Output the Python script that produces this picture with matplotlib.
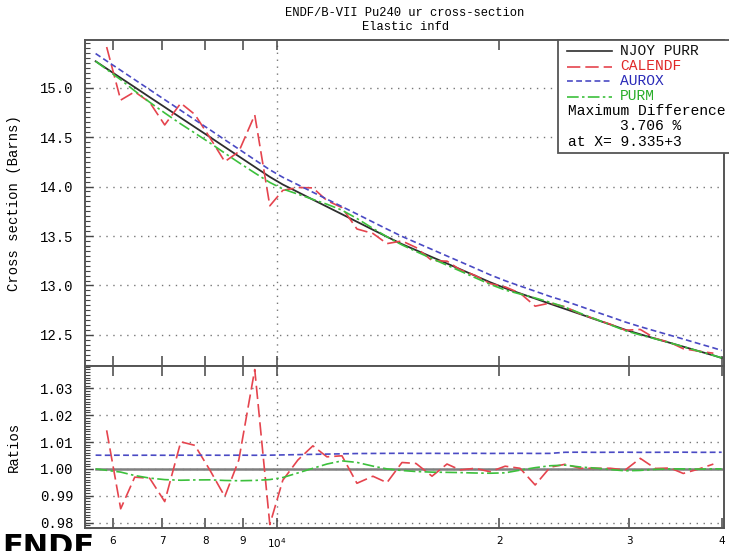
import numpy as np
import matplotlib.pyplot as plt
from matplotlib.lines import Line2D
from matplotlib.patches import Rectangle
from matplotlib.ticker import FixedLocator, FixedFormatter, MultipleLocator, FormatStrFormatter

plt.rcParams['font.family'] = ['Liberation Mono', 'DejaVu Sans Mono']

# energies (eV) and cross sections (barns)
energy = [5685, 5884, 6147, 6422, 6729, 7051, 7413, 7745, 8116, 8503, 8882, 9335,
          9784, 10188, 10677, 11189, 11690, 12250, 12836, 13490, 14095, 14770, 15430,
          16220, 16995, 17700, 18550, 19440, 20370, 21340, 22370, 23440, 24560, 25740,
          26970, 28270, 29620, 31040, 32530, 34080, 35490, 37200, 38980, 40000]
njoy = [15.265, 15.191, 15.097, 15.003, 14.902, 14.802, 14.694, 14.600, 14.500, 14.399,
        14.305, 14.198, 14.097, 14.020, 13.944, 13.867, 13.796, 13.720, 13.644, 13.563,
        13.492, 13.418, 13.357, 13.287, 13.222, 13.165, 13.099, 13.033, 12.973, 12.920,
        12.868, 12.815, 12.763, 12.711, 12.658, 12.606, 12.553, 12.507, 12.463, 12.420,
        12.382, 12.338, 12.294, 12.268]
aurox = [15.343, 15.268, 15.174, 15.079, 14.978, 14.877, 14.769, 14.674, 14.574, 14.472,
         14.378, 14.270, 14.169, 14.093, 14.018, 13.942, 13.872, 13.797, 13.722, 13.641,
         13.570, 13.496, 13.434, 13.364, 13.298, 13.241, 13.175, 13.108, 13.048, 12.995,
         12.942, 12.889, 12.842, 12.790, 12.736, 12.684, 12.631, 12.584, 12.540, 12.497,
         12.459, 12.414, 12.370, 12.344]
purm = [15.265, 15.183, 15.079, 14.966, 14.851, 14.743, 14.632, 14.540, 14.441, 14.337,
        14.242, 14.137, 14.041, 13.975, 13.923, 13.870, 13.821, 13.761, 13.677, 13.577,
        13.492, 13.410, 13.344, 13.271, 13.205, 13.147, 13.079, 13.012, 12.954, 12.914,
        12.874, 12.830, 12.781, 12.720, 12.662, 12.603, 12.544, 12.500, 12.461, 12.420,
        12.382, 12.337, 12.294, 12.268]
# CALENDF has no point at the two end energies
calendf = [15.409, 14.873, 14.957, 14.850, 14.622, 14.842, 14.728, 14.494, 14.251, 14.352,
           14.723, 13.805, 13.961, 13.990, 13.986, 13.858, 13.787, 13.571, 13.526, 13.423,
           13.450, 13.384, 13.251, 13.246, 13.160, 13.102, 13.019, 12.986, 12.923, 12.791,
           12.823, 12.785, 12.714, 12.661, 12.609, 12.548, 12.556, 12.465, 12.424, 12.361,
           12.337, 12.316]

minor_ticks = [6000, 7000, 8000, 9000, 20000, 30000, 40000]
minor_labels = ['6', '7', '8', '9', '2', '3', '4']

e = np.array(energy)
ref = np.array(njoy)
cal_e = e[1:-1]

c_njoy = '#2e2e2e'
c_cal = '#e5444e'
c_aur = '#4a4ac4'
c_purm = '#3cc03c'

fig = plt.figure(figsize=(7.29, 5.51), dpi=100)
ax1 = fig.add_axes([0.1166, 0.3358, 0.8766, 0.5916])
ax2 = fig.add_axes([0.1166, 0.0417, 0.8766, 0.2941])

# top panel: cross sections
ax1.plot(e, njoy, color=c_njoy, lw=1.3)
ax1.plot(cal_e, calendf, color=c_cal, lw=1.2, dashes=(8, 3))
ax1.plot(e, aurox, color=c_aur, lw=1.2, dashes=(3.5, 2))
ax1.plot(e, purm, color=c_purm, lw=1.2, dashes=(7, 2, 1.5, 2))

# bottom panel: ratios to NJOY
ax2.plot(e, ref / ref, color='#808080', lw=1.8)
ax2.plot(cal_e, np.array(calendf) / ref[1:-1], color=c_cal, lw=1.2, dashes=(8, 3))
ax2.plot(e, np.array(aurox) / ref, color=c_aur, lw=1.2, dashes=(3.5, 2))
ax2.plot(e, np.array(purm) / ref, color=c_purm, lw=1.2, dashes=(7, 2, 1.5, 2))

for ax in (ax1, ax2):
    ax.set_xscale('log')
    ax.set_xlim(5500, 40300)
    ax.xaxis.set_major_locator(FixedLocator([10000]))
    ax.xaxis.set_minor_locator(FixedLocator(minor_ticks))
    ax.tick_params(axis='x', which='both', direction='in', top=True, length=7, width=1.1,
                   color='#444444')
    ax.tick_params(axis='y', which='major', direction='in', length=6, width=1.0,
                   color='#444444', labelsize=10, pad=8)
    ax.tick_params(axis='y', which='minor', direction='in', length=3.5, width=0.8,
                   color='#444444')
    ax.grid(True, axis='both', which='major', color='#777777', linestyle=(0, (1, 4)), lw=1.0)
    for s in ax.spines.values():
        s.set_color('#555555')
        s.set_linewidth(1.4)

ax1.set_ylim(12.187, 15.48)
ax1.yaxis.set_major_locator(MultipleLocator(0.5))
ax1.yaxis.set_minor_locator(MultipleLocator(0.05))
ax1.yaxis.set_major_formatter(FormatStrFormatter('%.1f'))
ax1.tick_params(axis='x', which='both', labelbottom=False)
ax1.set_ylabel('Cross section (Barns)', fontsize=10)
ax1.yaxis.set_label_coords(-0.1, 0.5)

ax2.set_ylim(0.978, 1.0383)
ax2.yaxis.set_major_locator(MultipleLocator(0.01))
ax2.yaxis.set_minor_locator(MultipleLocator(0.001))
ax2.yaxis.set_major_formatter(FormatStrFormatter('%.2f'))
ax2.xaxis.set_major_formatter(FixedFormatter(['$10^4$']))
ax2.xaxis.set_minor_formatter(FixedFormatter(minor_labels))
ax2.tick_params(axis='x', which='both', labelsize=7.5, labelfontfamily='DejaVu Sans', pad=6)
ax2.set_ylabel('Ratios', fontsize=10)
ax2.yaxis.set_label_coords(-0.1, 0.5)

# title
fig.text(405 / 729, 1 - 13 / 551, 'ENDF/B-VII Pu240 ur cross-section', ha='center',
         va='center', fontsize=8.7)
fig.text(405 / 729, 1 - 27 / 551, 'Elastic infd', ha='center', va='center', fontsize=8.7)

# legend box
W, H = 729.0, 551.0
fig.add_artist(Rectangle((558 / W, 1 - 153 / H), 180 / W, 113 / H, transform=fig.transFigure,
                         facecolor='white', edgecolor='#555555', lw=1.3, zorder=5))
rows = [('NJOY PURR', c_njoy, '#111111', None),
        ('CALENDF', c_cal, '#e02828', (8, 3)),
        ('AUROX', c_aur, '#2a2ab8', (3.5, 2)),
        ('PURM', c_purm, '#2aae2a', (7, 2, 1.5, 2))]
row_y = [51, 66.5, 81.5, 96.5]
for (name, lc, tc, ds), y in zip(rows, row_y):
    ln = Line2D([567 / W, 612 / W], [1 - y / H, 1 - y / H], transform=fig.transFigure,
                color=lc, lw=1.2, zorder=6)
    if ds:
        ln.set_dashes(ds)
    fig.add_artist(ln)
    fig.text(620 / W, 1 - y / H, name, color=tc, fontsize=10.5, va='center', zorder=6)
fig.text(568 / W, 1 - 111 / H, 'Maximum Difference', fontsize=10.5, va='center', zorder=6)
fig.text(620 / W, 1 - 126 / H, '3.706 %', fontsize=10.5, va='center', zorder=6)
fig.text(568 / W, 1 - 141.5 / H, 'at X= 9.335+3', fontsize=10.5, va='center', zorder=6)

# cropped caption fragment at bottom left (cut off in the original too)
fig.text(2 / W, -5 / H, 'ENDF', fontsize=22, fontweight='bold', family='DejaVu Sans',
         va='baseline', ha='left')

fig.savefig('out.png', dpi=100)
